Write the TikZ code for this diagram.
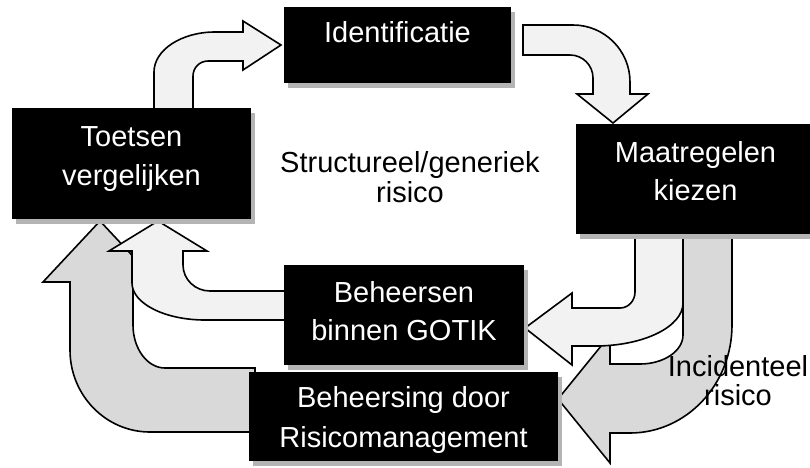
\documentclass[tikz,border=0pt]{standalone}
\usepackage{fontspec}
\setmainfont{Liberation Sans}
\usetikzlibrary{shadows}
\definecolor{lightfill}{HTML}{F2F2F2}
\definecolor{grayfill}{HTML}{D9D9D9}
\definecolor{shadowgray}{HTML}{B4B4B4}
\tikzset{
  blackbox/.style={fill=black, draw=none, inner sep=0pt,
    drop shadow={shadow xshift=4pt, shadow yshift=-5pt, fill=shadowgray, opacity=1}},
  boxtext/.style={text=white, font=\fontsize{29}{35}\selectfont, anchor=base, inner sep=0pt},
  freetext/.style={text=black, font=\fontsize{29}{35}\selectfont, anchor=base, inner sep=0pt},
  lightarrow/.style={fill=lightfill, draw=black, line width=1.6pt, line join=miter},
  grayarrow/.style={fill=grayfill, draw=black, line width=1.6pt, line join=miter},
}
\begin{document}
\begin{tikzpicture}[x=1pt, y=-1pt]
\useasboundingbox (0,0) rectangle (810,467);
\fill[white] (0,0) rectangle (810,467);

% gray arrow: Maatregelen -> Risicomanagement
\draw[grayarrow] (683,236) -- (732,236) -- (732,325)
  .. controls (732,384.6) and (686.3,433) .. (630,433)
  -- (610,433) -- (610,463) -- (558,399) -- (610,335) -- (610,364) -- (640,364)
  .. controls (663.7,364) and (683,351) .. (683,335) -- cycle;
% light arrow: Maatregelen -> GOTIK
\draw[lightarrow] (635,236) -- (635,292)
  .. controls (635,300.8) and (628.3,308) .. (620,308)
  -- (572,308) -- (572,293) -- (525,328) -- (572,365) -- (572,346) -- (595,346)
  .. controls (643.6,346) and (683,326.7) .. (683,303) -- (683,236) -- cycle;
% gray arrow: Risicomanagement -> Toetsen
\draw[grayarrow] (255,368) -- (165,368)
  .. controls (147.3,368) and (133,348.7) .. (133,325)
  -- (133,282) -- (157,282) -- (100,221) -- (43,282) -- (70,282) -- (70,350)
  .. controls (70,395.3) and (105.8,432) .. (150,432) -- (255,432) -- cycle;
% light arrow: GOTIK -> Toetsen
\draw[lightarrow] (290,291) -- (210,291)
  .. controls (195.1,291) and (183,279.4) .. (183,265)
  -- (183,251) -- (207,251) -- (158,221) -- (109,251) -- (132,251) -- (132,283)
  .. controls (132,303.4) and (164.7,320) .. (205,320) -- (290,320) -- cycle;
% light arrow: Toetsen -> Identificatie
\draw[lightarrow] (154,112) -- (154,72)
  .. controls (154,50) and (181.3,32) .. (215,32)
  -- (243,32) -- (243,21) -- (281,45) -- (243,70) -- (243,61) -- (208,61)
  .. controls (199.7,61) and (193,67.7) .. (193,76) -- (193,112) -- cycle;
% light arrow: Identificatie -> Maatregelen
\draw[lightarrow] (523,25) -- (573,25)
  .. controls (604.5,25) and (630,50.5) .. (630,82)
  -- (630,94) -- (648,94) -- (613,123) -- (577,94) -- (593,94) -- (593,78)
  .. controls (593,65.3) and (582.7,55) .. (570,55) -- (523,55) -- cycle;

% boxes
\node[blackbox, minimum width=227pt, minimum height=76pt] (ident) at (397.5,45) {};
\node[blackbox, minimum width=239pt, minimum height=111pt] (toets) at (131.5,163.5) {};
\node[blackbox, minimum width=239pt, minimum height=110pt] (maat) at (695.5,179) {};
\node[blackbox, minimum width=240pt, minimum height=100pt] (gotik) at (404,315) {};
\node[blackbox, minimum width=309pt, minimum height=89pt] (risman) at (403.5,416.5) {};

% box texts
\node[boxtext] (identA) at (397.5,42) {Identificatie};
\node[boxtext] (toetsA) at (131.5,146) {Toetsen};
\node[boxtext] (toetsB) at (131.5,185) {vergelijken};
\node[boxtext] (maatA) at (695.5,162) {Maatregelen};
\node[boxtext] (maatB) at (695.5,200) {kiezen};
\node[boxtext] (gotikA) at (404,302) {Beheersen};
\node[boxtext] (gotikB) at (404,340) {binnen GOTIK};
\node[boxtext] (rismanA) at (403.5,407) {Beheersing door};
\node[boxtext] (rismanB) at (403.5,447) {Risicomanagement};

% free labels
\node[freetext] (strucA) at (410,172) {Structureel/generiek};
\node[freetext] (strucB) at (410,202) {risico};
\node[freetext] (incA) at (738,376) {Incidenteel};
\node[freetext] (incB) at (738,405) {risico};
\end{tikzpicture}
\end{document}
